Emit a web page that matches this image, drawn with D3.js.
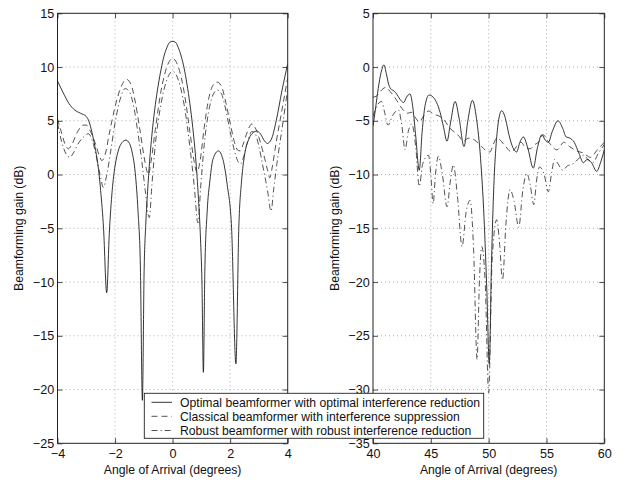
<!DOCTYPE html>
<html><head><meta charset="utf-8">
<script src="https://cdn.jsdelivr.net/npm/d3@7"></script>
<style>
html,body{margin:0;padding:0;background:#fff;}
svg{display:block;font-family:"Liberation Sans",Arial,Helvetica,sans-serif;}
</style></head>
<body><svg id="c" width="626" height="483"></svg>
<script>
// ---------- DATA ----------
const leftXTicks = [-4, -2, 0, 2, 4];
const leftYTicks = [15, 10, 5, 0, -5, -10, -15, -20, -25];
const rightXTicks = [40, 45, 50, 55, 60];
const rightYTicks = [5, 0, -5, -10, -15, -20, -25, -30, -35];

const seriesNames = [
  "Optimal beamformer with optimal interference reduction",
  "Classical beamformer with interference suppression",
  "Robust beamformer with robust interference reduction"
];
const xLabel = "Angle of Arrival (degrees)";
const yLabel = "Beamforming gain (dB)";

// left panel [angle, gain dB]
const leftOptimal = [[-4,8.7],[-3.8,7.6],[-3.6,6.6],[-3.4,6.0],[-3.2,5.7],[-3.0,5.4],[-2.9,4.9],[-2.8,3.9],[-2.7,2.6],[-2.6,1.0],[-2.5,-1.5],[-2.4,-5],[-2.29,-11],[-2.2,-5.5],[-2.1,-1.5],[-2.0,0.8],[-1.9,2.1],[-1.75,3.0],[-1.62,3.2],[-1.5,2.9],[-1.4,2.0],[-1.3,0.2],[-1.2,-3.5],[-1.12,-8.5],[-1.05,-21],[-0.99,-9],[-0.93,-4.5],[-0.87,-1.6],[-0.8,1.2],[-0.7,4.2],[-0.6,6.5],[-0.5,8.3],[-0.4,9.8],[-0.3,11.0],[-0.2,11.8],[-0.1,12.3],[0,12.4],[0.1,12.3],[0.2,11.8],[0.3,11.0],[0.4,9.9],[0.5,8.4],[0.6,6.6],[0.7,4.4],[0.8,1.6],[0.9,-2.3],[0.97,-6],[1.02,-10],[1.07,-18.4],[1.12,-9],[1.2,-3.5],[1.3,-0.5],[1.4,1.4],[1.59,2.2],[1.75,1.4],[1.9,-1],[2.05,-5],[2.2,-17.6],[2.3,-5],[2.4,-0.5],[2.5,1.8],[2.65,3.3],[2.8,3.9],[2.93,4.05],[3.05,3.8],[3.2,3.1],[3.3,2.9],[3.45,3.4],[3.6,5],[3.8,7.8],[4,10.3]];
const leftClassical = [[-4,5.2],[-3.85,3.8],[-3.72,2.7],[-3.62,2.4],[-3.5,2.8],[-3.3,4.0],[-3.1,4.6],[-3.0,4.6],[-2.85,4.0],[-2.7,3.0],[-2.55,1.8],[-2.46,1.3],[-2.35,1.8],[-2.2,3.8],[-2.0,6.3],[-1.8,8.1],[-1.6,8.85],[-1.45,8.4],[-1.3,6.8],[-1.15,4.4],[-1.0,1.8],[-0.9,0.4],[-0.84,0.0],[-0.75,1.2],[-0.6,4.2],[-0.4,7.8],[-0.2,10.0],[0,10.8],[0.2,10.0],[0.4,7.7],[0.6,4.0],[0.75,1.2],[0.85,0.2],[0.95,1.2],[1.1,4.4],[1.25,7.0],[1.4,8.3],[1.55,8.6],[1.7,8.2],[1.85,6.7],[2.0,4.8],[2.15,3.0],[2.25,2.3],[2.35,2.2],[2.45,2.8],[2.6,4.0],[2.75,4.7],[2.9,4.2],[3.05,3.0],[3.2,1.5],[3.3,0.4],[3.38,-0.3],[3.45,0.5],[3.6,3.0],[3.8,6.0],[4.0,9.0]];
const leftRobust = [[-4,4.8],[-3.85,3.0],[-3.7,1.9],[-3.57,1.6],[-3.45,2.0],[-3.25,3.0],[-3.05,3.6],[-2.93,3.8],[-2.75,2.8],[-2.6,1.0],[-2.5,-0.3],[-2.41,-1.2],[-2.3,-0.2],[-2.15,2.2],[-2.0,4.8],[-1.8,7.2],[-1.65,8.0],[-1.5,7.7],[-1.35,6.3],[-1.2,3.8],[-1.05,0.8],[-0.95,-1.5],[-0.81,-4.0],[-0.72,-1.0],[-0.6,2.8],[-0.4,6.6],[-0.2,8.8],[0,9.6],[0.2,8.8],[0.4,6.5],[0.6,2.6],[0.75,-1.0],[0.88,-4.5],[0.98,-1.0],[1.1,2.8],[1.25,5.8],[1.4,7.4],[1.55,7.85],[1.7,7.5],[1.85,6.0],[2.0,4.0],[2.15,2.2],[2.3,1.1],[2.37,1.0],[2.45,1.5],[2.6,3.0],[2.75,4.0],[2.85,3.9],[3.0,2.6],[3.15,0.6],[3.3,-1.5],[3.42,-3.4],[3.52,-1.2],[3.65,1.5],[3.8,4.2],[4.0,8.0]];

// right panel [angle, gain dB]
const rightOptimal = [[40.0,-5.5],[40.2,-4.0],[40.45,-2.0],[40.7,-0.5],[40.95,0.2],[41.15,-0.6],[41.35,-1.6],[41.6,-2.1],[41.8,-2.2],[42.1,-2.6],[42.4,-3.1],[42.65,-3.3],[42.9,-2.8],[43.2,-2.5],[43.45,-3.8],[43.7,-6.5],[44.0,-9.6],[44.25,-6.0],[44.5,-3.6],[44.85,-2.6],[45.2,-2.8],[45.5,-3.3],[45.8,-4.2],[46.1,-5.6],[46.4,-6.9],[46.7,-5.2],[47.1,-3.2],[47.45,-4.8],[47.87,-7.4],[48.2,-5.0],[48.6,-3.1],[48.95,-4.8],[49.3,-8.5],[49.6,-14],[49.85,-21],[50.05,-27.6],[50.25,-18],[50.45,-11],[50.7,-6.5],[50.9,-4.7],[51.13,-4.06],[51.4,-4.6],[51.8,-6.5],[52.1,-7.5],[52.42,-7.9],[52.7,-7.0],[53.0,-6.5],[53.4,-7.6],[53.86,-9.4],[54.2,-7.6],[54.6,-6.3],[54.9,-6.8],[55.16,-7.0],[55.5,-6.0],[56.0,-5.0],[56.4,-5.7],[56.7,-6.5],[57.0,-6.6],[57.4,-7.0],[57.8,-8.0],[58.2,-8.9],[58.5,-8.6],[58.9,-8.9],[59.34,-9.7],[59.7,-8.8],[60,-7.7]];
const rightClassical = [[40.0,-2.8],[40.3,-2.7],[40.6,-2.3],[41.1,-1.9],[41.5,-2.3],[41.8,-2.7],[42.05,-3.1],[42.4,-3.7],[42.7,-4.1],[43.0,-4.3],[43.3,-4.2],[43.6,-4.6],[44.0,-5.1],[44.4,-4.5],[44.8,-4.1],[45.3,-4.4],[45.8,-4.6],[46.2,-5.0],[46.66,-5.7],[47.1,-6.1],[47.5,-6.5],[47.8,-6.9],[48.3,-6.6],[48.8,-6.8],[49.4,-7.4],[49.8,-7.8],[50.1,-7.9],[50.4,-7.2],[50.7,-6.6],[51.0,-6.8],[51.4,-7.3],[52.0,-7.9],[52.4,-7.4],[52.8,-7.0],[53.2,-7.5],[53.6,-7.6],[54.0,-7.2],[54.3,-7.0],[54.7,-6.3],[55.2,-7.0],[55.9,-7.7],[56.5,-7.0],[57.0,-7.4],[57.6,-7.8],[58.2,-8.0],[58.8,-8.4],[59.4,-7.7],[60.0,-7.0]];
const rightRobust = [[40.0,-4.6],[40.35,-3.6],[40.75,-3.2],[41.0,-4.2],[41.3,-5.4],[41.7,-4.5],[42.2,-4.0],[42.5,-5.5],[42.77,-7.7],[43.05,-6.0],[43.35,-5.3],[43.7,-7.5],[44.0,-11.1],[44.3,-9.0],[44.8,-8.2],[45.0,-10.0],[45.2,-12.7],[45.4,-10.0],[45.65,-8.3],[46.0,-10.0],[46.4,-13.0],[46.7,-10.5],[46.95,-9.1],[47.3,-12.0],[47.7,-16.7],[48.05,-13.5],[48.4,-12.4],[48.7,-17.0],[49.0,-27.2],[49.2,-20.0],[49.4,-16.7],[49.7,-20.0],[50.0,-30.3],[50.3,-18.0],[50.7,-14.2],[50.95,-16.5],[51.2,-19.8],[51.5,-14.5],[51.85,-11.4],[52.2,-12.5],[52.6,-14.9],[52.95,-11.5],[53.3,-9.9],[53.6,-11.0],[53.9,-12.8],[54.15,-10.5],[54.4,-9.3],[54.8,-10.0],[55.16,-11.6],[55.45,-9.8],[55.7,-8.6],[56.0,-9.0],[56.4,-9.6],[56.8,-9.2],[57.3,-9.0],[57.8,-8.5],[58.2,-8.2],[58.6,-8.6],[59.0,-8.9],[59.5,-8.0],[60.0,-7.2]];

// ---------- DRAW ----------
const svg = d3.select("#c");
const FONT = 12.2;
const TICKFONT = 12.6;
const plotTop = 13.3, plotBottom = 443.3;
const styles = [
  {dash: null, color: "#111"},
  {dash: "6,4", color: "#333"},
  {dash: "6,3,1.2,3", color: "#333"}
];

function panel(id, x0, x1, xDomain, yDomain, xTicks, yTicks, series, labelX) {
  const x = d3.scaleLinear().domain(xDomain).range([x0, x1]);
  const y = d3.scaleLinear().domain(yDomain).range([plotBottom, plotTop]);
  const g = svg.append("g");
  const W = x1 - x0, H = plotBottom - plotTop;

  g.append("rect").attr("x", x0).attr("y", plotTop).attr("width", W).attr("height", H).attr("fill", "#fff");

  const grid = g.append("g").attr("stroke", "#999").attr("stroke-width", 0.8).attr("stroke-dasharray", "1,3");
  xTicks.forEach(t => { if (t !== xDomain[0] && t !== xDomain[1]) grid.append("line").attr("x1", x(t)).attr("x2", x(t)).attr("y1", plotTop).attr("y2", plotBottom); });
  yTicks.forEach(t => { if (t !== yDomain[0] && t !== yDomain[1]) grid.append("line").attr("y1", y(t)).attr("y2", y(t)).attr("x1", x0).attr("x2", x1); });

  g.append("clipPath").attr("id", "clip" + id).append("rect").attr("x", x0).attr("y", plotTop).attr("width", W).attr("height", H);
  const line = d3.line().x(d => x(d[0])).y(d => y(d[1])).curve(d3.curveMonotoneX);
  series.forEach((s, i) => {
    g.append("path").datum(s).attr("d", line).attr("fill", "none")
      .attr("stroke", styles[i].color).attr("stroke-width", 0.85)
      .attr("stroke-dasharray", styles[i].dash).attr("clip-path", `url(#clip${id})`);
  });

  const axB = d3.axisBottom(x).tickValues(xTicks).tickSizeInner(-5).tickSizeOuter(0).tickPadding(6.2);
  const axL = d3.axisLeft(y).tickValues(yTicks).tickSizeInner(-5).tickSizeOuter(0).tickPadding(3.3);
  const axT = d3.axisTop(x).tickValues(xTicks).tickSizeInner(-5).tickSizeOuter(0).tickFormat("");
  const axR = d3.axisRight(y).tickValues(yTicks).tickSizeInner(-5).tickSizeOuter(0).tickFormat("");
  const gb = g.append("g").attr("transform", `translate(0,${plotBottom})`).call(axB);
  const gl = g.append("g").attr("transform", `translate(${x0},0)`).call(axL);
  const gt = g.append("g").attr("transform", `translate(0,${plotTop})`).call(axT);
  const gr = g.append("g").attr("transform", `translate(${x1},0)`).call(axR);
  [gb, gl, gt, gr].forEach(a => {
    a.select(".domain").remove();
    a.selectAll("line").attr("stroke", "#222").attr("stroke-width", 0.8);
    a.selectAll("text").attr("font-size", TICKFONT).attr("fill", "#111").attr("font-family", '"Liberation Sans",Arial,sans-serif');
  });

  g.append("rect").attr("x", x0).attr("y", plotTop).attr("width", W).attr("height", H)
    .attr("fill", "none").attr("stroke", "#222").attr("stroke-width", 1);

  g.append("text").attr("x", (x0 + x1) / 2).attr("y", 474).attr("text-anchor", "middle")
    .attr("font-size", FONT).attr("fill", "#111").text(xLabel);
  g.append("text").attr("transform", `translate(${labelX},${(plotTop + plotBottom) / 2}) rotate(-90)`)
    .attr("text-anchor", "middle").attr("font-size", FONT).attr("fill", "#111").text(yLabel);
}

panel("L", 57.5, 287.7, [-4, 4], [-25, 15], leftXTicks, leftYTicks, [leftOptimal, leftClassical, leftRobust], 23);
panel("R", 373, 604.3, [40, 60], [-35, 5], rightXTicks, rightYTicks, [rightOptimal, rightClassical, rightRobust], 338.5);

const lg = svg.append("g");
lg.append("rect").attr("x", 144.3).attr("y", 393.3).attr("width", 339.4).attr("height", 45)
  .attr("fill", "#fff").attr("stroke", "#222").attr("stroke-width", 0.9);
const rowY = [402.3, 416.3, 430.5];
seriesNames.forEach((n, i) => {
  lg.append("line").attr("x1", 151.5).attr("x2", 172).attr("y1", rowY[i]).attr("y2", rowY[i])
    .attr("stroke", styles[i].color).attr("stroke-width", 0.85).attr("stroke-dasharray", styles[i].dash);
  lg.append("text").attr("x", 180).attr("y", rowY[i] + 4.3).attr("font-size", FONT).attr("fill", "#111").text(n);
});
</script></body></html>
